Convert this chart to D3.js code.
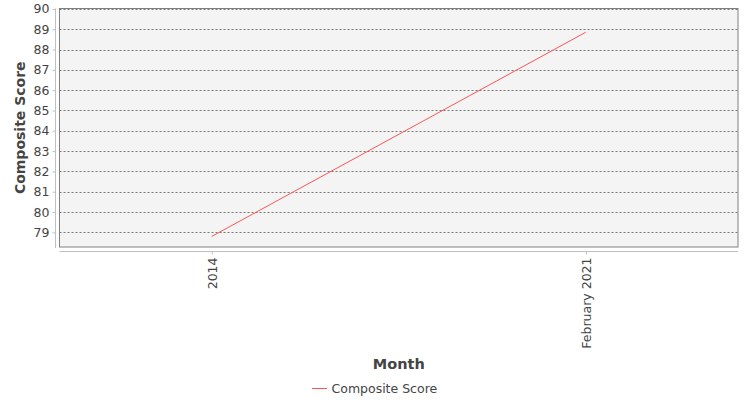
<!DOCTYPE html>
<html>
<head>
<meta charset="utf-8">
<script src="https://cdn.jsdelivr.net/npm/d3@7"></script>
<style>
  body { margin: 0; background: #fff; }
  text { font-family: "DejaVu Sans", sans-serif; fill: #444; }
</style>
</head>
<body>
<div id="chart"></div>
<script>
// data
var months = ["2014", "February 2021"];
var compositeScore = [78.8, 88.85];
var yTicks = [79, 80, 81, 82, 83, 84, 85, 86, 87, 88, 89, 90];
var seriesName = "Composite Score";

var svgWidth = 750;
var svgHeight = 400;

var plot = { left: 59.5, top: 8.5, right: 738, bottom: 247 };

var svg = d3.select("#chart")
    .append("svg")
    .attr("width", svgWidth)
    .attr("height", svgHeight);

var xScale = d3.scalePoint()
    .domain(months)
    .range([plot.left, plot.right])
    .padding(0.407);

var yScale = d3.scaleLinear()
    .domain([78.28, 90.02])
    .range([plot.bottom, plot.top]);

// plot background
svg.append("rect")
    .attr("x", plot.left)
    .attr("y", plot.top)
    .attr("width", plot.right - plot.left)
    .attr("height", plot.bottom - plot.top)
    .attr("fill", "#f4f4f4");

// gridlines
svg.append("g")
    .selectAll("line")
    .data(yTicks)
    .enter()
    .append("line")
    .attr("x1", plot.left)
    .attr("x2", plot.right)
    .attr("y1", d => Math.round(yScale(d)) + 0.5)
    .attr("y2", d => Math.round(yScale(d)) + 0.5)
    .attr("stroke", "#777")
    .attr("stroke-width", 1)
    .attr("stroke-dasharray", "2,2");

// frame
svg.append("rect")
    .attr("x", plot.left)
    .attr("y", plot.top)
    .attr("width", plot.right - plot.left)
    .attr("height", plot.bottom - plot.top)
    .attr("fill", "none")
    .attr("stroke", "#808080")
    .attr("stroke-width", 1);

// y axis
var leftAxis = d3.axisLeft(yScale)
    .tickValues(yTicks)
    .tickSize(3)
    .tickPadding(3);

var yAxisG = svg.append("g")
    .attr("transform", "translate(55.5, 0)")
    .call(leftAxis);
yAxisG.select(".domain")
    .attr("d", `M0,${plot.top}V${plot.bottom + 1}`)
    .attr("stroke", "#c0c0c0");
yAxisG.selectAll(".tick line").attr("stroke", "#c0c0c0");
yAxisG.selectAll(".tick text")
    .attr("font-size", 12.5)
    .attr("font-family", "DejaVu Sans")
    .attr("fill", "#444");

// x axis
var bottomAxis = d3.axisBottom(xScale)
    .tickSize(3)
    .tickPadding(3);

var xAxisG = svg.append("g")
    .attr("transform", "translate(0, 251.5)")
    .call(bottomAxis);
xAxisG.select(".domain")
    .attr("d", `M${plot.left},0H${plot.right}`)
    .attr("stroke", "#c0c0c0");
xAxisG.selectAll(".tick line").attr("stroke", "#c0c0c0");
xAxisG.selectAll(".tick text")
    .attr("font-size", 12.5)
    .attr("font-family", "DejaVu Sans")
    .attr("fill", "#444")
    .attr("text-anchor", "end")
    .attr("dy", "0.35em")
    .attr("transform", "translate(0, 6) rotate(-90)")
    .attr("x", 0)
    .attr("y", 0);

// the line
var line = d3.line()
    .x((d, i) => xScale(months[i]))
    .y(d => yScale(d));

svg.append("path")
    .datum(compositeScore)
    .attr("d", line)
    .attr("fill", "none")
    .attr("stroke", "#ff5555")
    .attr("stroke-width", 1);

// axis labels
svg.append("text")
    .attr("transform", `translate(25, ${(plot.top + plot.bottom) / 2}) rotate(-90)`)
    .attr("text-anchor", "middle")
    .attr("font-size", 14)
    .attr("font-weight", "bold")
    .text("Composite Score");

svg.append("text")
    .attr("x", (plot.left + plot.right) / 2)
    .attr("y", 369)
    .attr("text-anchor", "middle")
    .attr("font-size", 14.5)
    .attr("font-weight", "bold")
    .text("Month");

// legend
svg.append("line")
    .attr("x1", 312)
    .attr("x2", 327)
    .attr("y1", 388.5)
    .attr("y2", 388.5)
    .attr("stroke", "#ff5555")
    .attr("stroke-width", 1);

svg.append("text")
    .attr("x", 331.5)
    .attr("y", 392.5)
    .attr("font-size", 12.5)
    .text(seriesName);
</script>
</body>
</html>
